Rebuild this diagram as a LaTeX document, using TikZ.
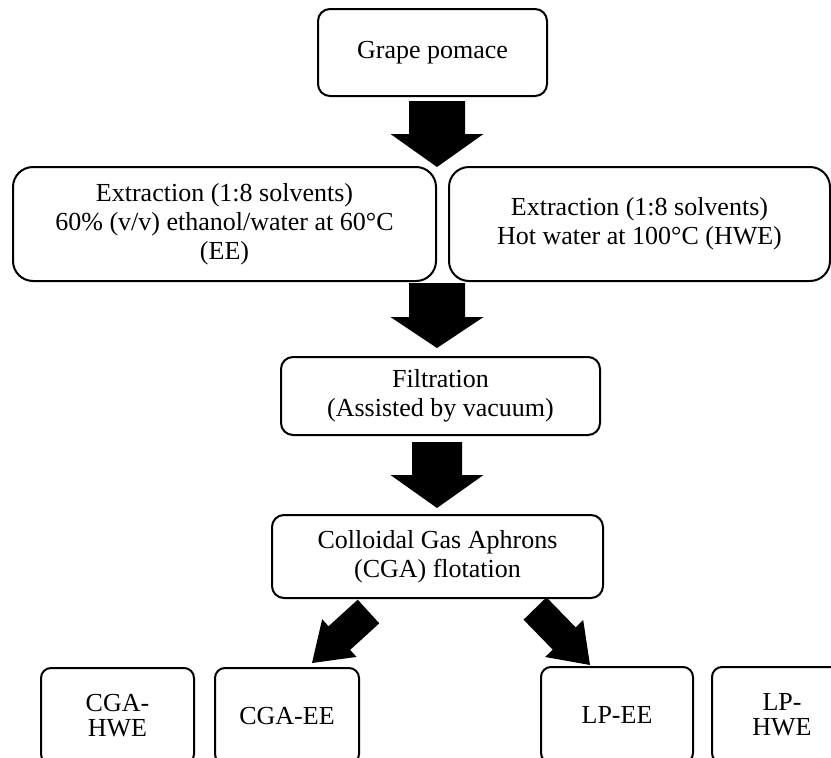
\documentclass[tikz,border=0pt]{standalone}
\usepackage{fontspec}
\setmainfont{Liberation Serif}
\usetikzlibrary{calc}
\tikzset{
  box/.style={draw, line width=2pt, rounded corners=12pt, align=center, inner sep=0pt,
    font=\fontsize{26}{29}\selectfont},
  bigbox/.style={box, rounded corners=20pt},
  smallbox/.style={box, rounded corners=10pt, font=\fontsize{26}{25}\selectfont},
  blockfill/.style={fill=black},
}
% #1 start, #2 end, #3 shaft half width, #4 head half width, #5 head length
\newcommand\blockarrow[5]{%
  \path ($(#2)!#5!(#1)$) coordinate (bah);
  \fill[blockfill] ($(#1)!#3!-90:(#2)$) -- ($(bah)!#3!-90:(#2)$) -- ($(bah)!#4!-90:(#2)$)
    -- (#2) -- ($(bah)!#4!90:(#2)$) -- ($(bah)!#3!90:(#2)$) -- ($(#1)!#3!90:(#2)$) -- cycle;
}
\begin{document}
\begin{tikzpicture}[x=1pt, y=-1pt]
\useasboundingbox (0,0) rectangle (831,758);
\clip (0,0) rectangle (831,758);

\node[box, minimum width=229pt, minimum height=87pt] (gp) at (432.5,52.5) {Grape pomace};
\node[bigbox, minimum width=423pt, minimum height=114pt] (ee) at (224.5,224)
  {Extraction (1:8 solvents)\\60\% (v/v) ethanol/water at 60°C\\(EE)};
\node[bigbox, minimum width=381pt, minimum height=114pt] (hwe) at (639.5,224)
  {Extraction (1:8 solvents)\\Hot water at 100°C (HWE)};
\node[box, minimum width=319pt, minimum height=78pt] (filt) at (440.5,396)
  {Filtration\\(Assisted by vacuum)};
\node[box, minimum width=331pt, minimum height=83pt] (cga) at (437.5,556.5)
  {Colloidal Gas Aphrons\\(CGA) flotation};
\node[smallbox, minimum width=153pt, minimum height=96pt] (cgahwe) at (117.5,716) {CGA-\\HWE};
\node[smallbox, minimum width=144pt, minimum height=96pt] (cgaee) at (287,716) {CGA-EE};
\node[smallbox, minimum width=152pt, minimum height=96pt] (lpee) at (617,715) {LP-EE};
\node[smallbox, minimum width=140pt, minimum height=96pt] (lphwe) at (782,715) {LP-\\HWE};

\coordinate (a1s) at (437,101);  \coordinate (a1e) at (437,167);
\coordinate (a2s) at (437,283);  \coordinate (a2e) at (437,348);
\coordinate (a3s) at (437,442);  \coordinate (a3e) at (437,508);
\coordinate (a4s) at (368.5,611.5);  \coordinate (a4e) at (312,663);
\coordinate (a5s) at (535,608.5); \coordinate (a5e) at (590,665);

\blockarrow{a1s}{a1e}{28pt}{46.5pt}{33pt}
\blockarrow{a2s}{a2e}{28pt}{46.5pt}{31pt}
\blockarrow{a3s}{a3e}{25pt}{46.5pt}{33pt}
\blockarrow{a4s}{a4e}{16pt}{25.5pt}{37pt}
\blockarrow{a5s}{a5e}{16pt}{26.5pt}{37pt}
\end{tikzpicture}
\end{document}
